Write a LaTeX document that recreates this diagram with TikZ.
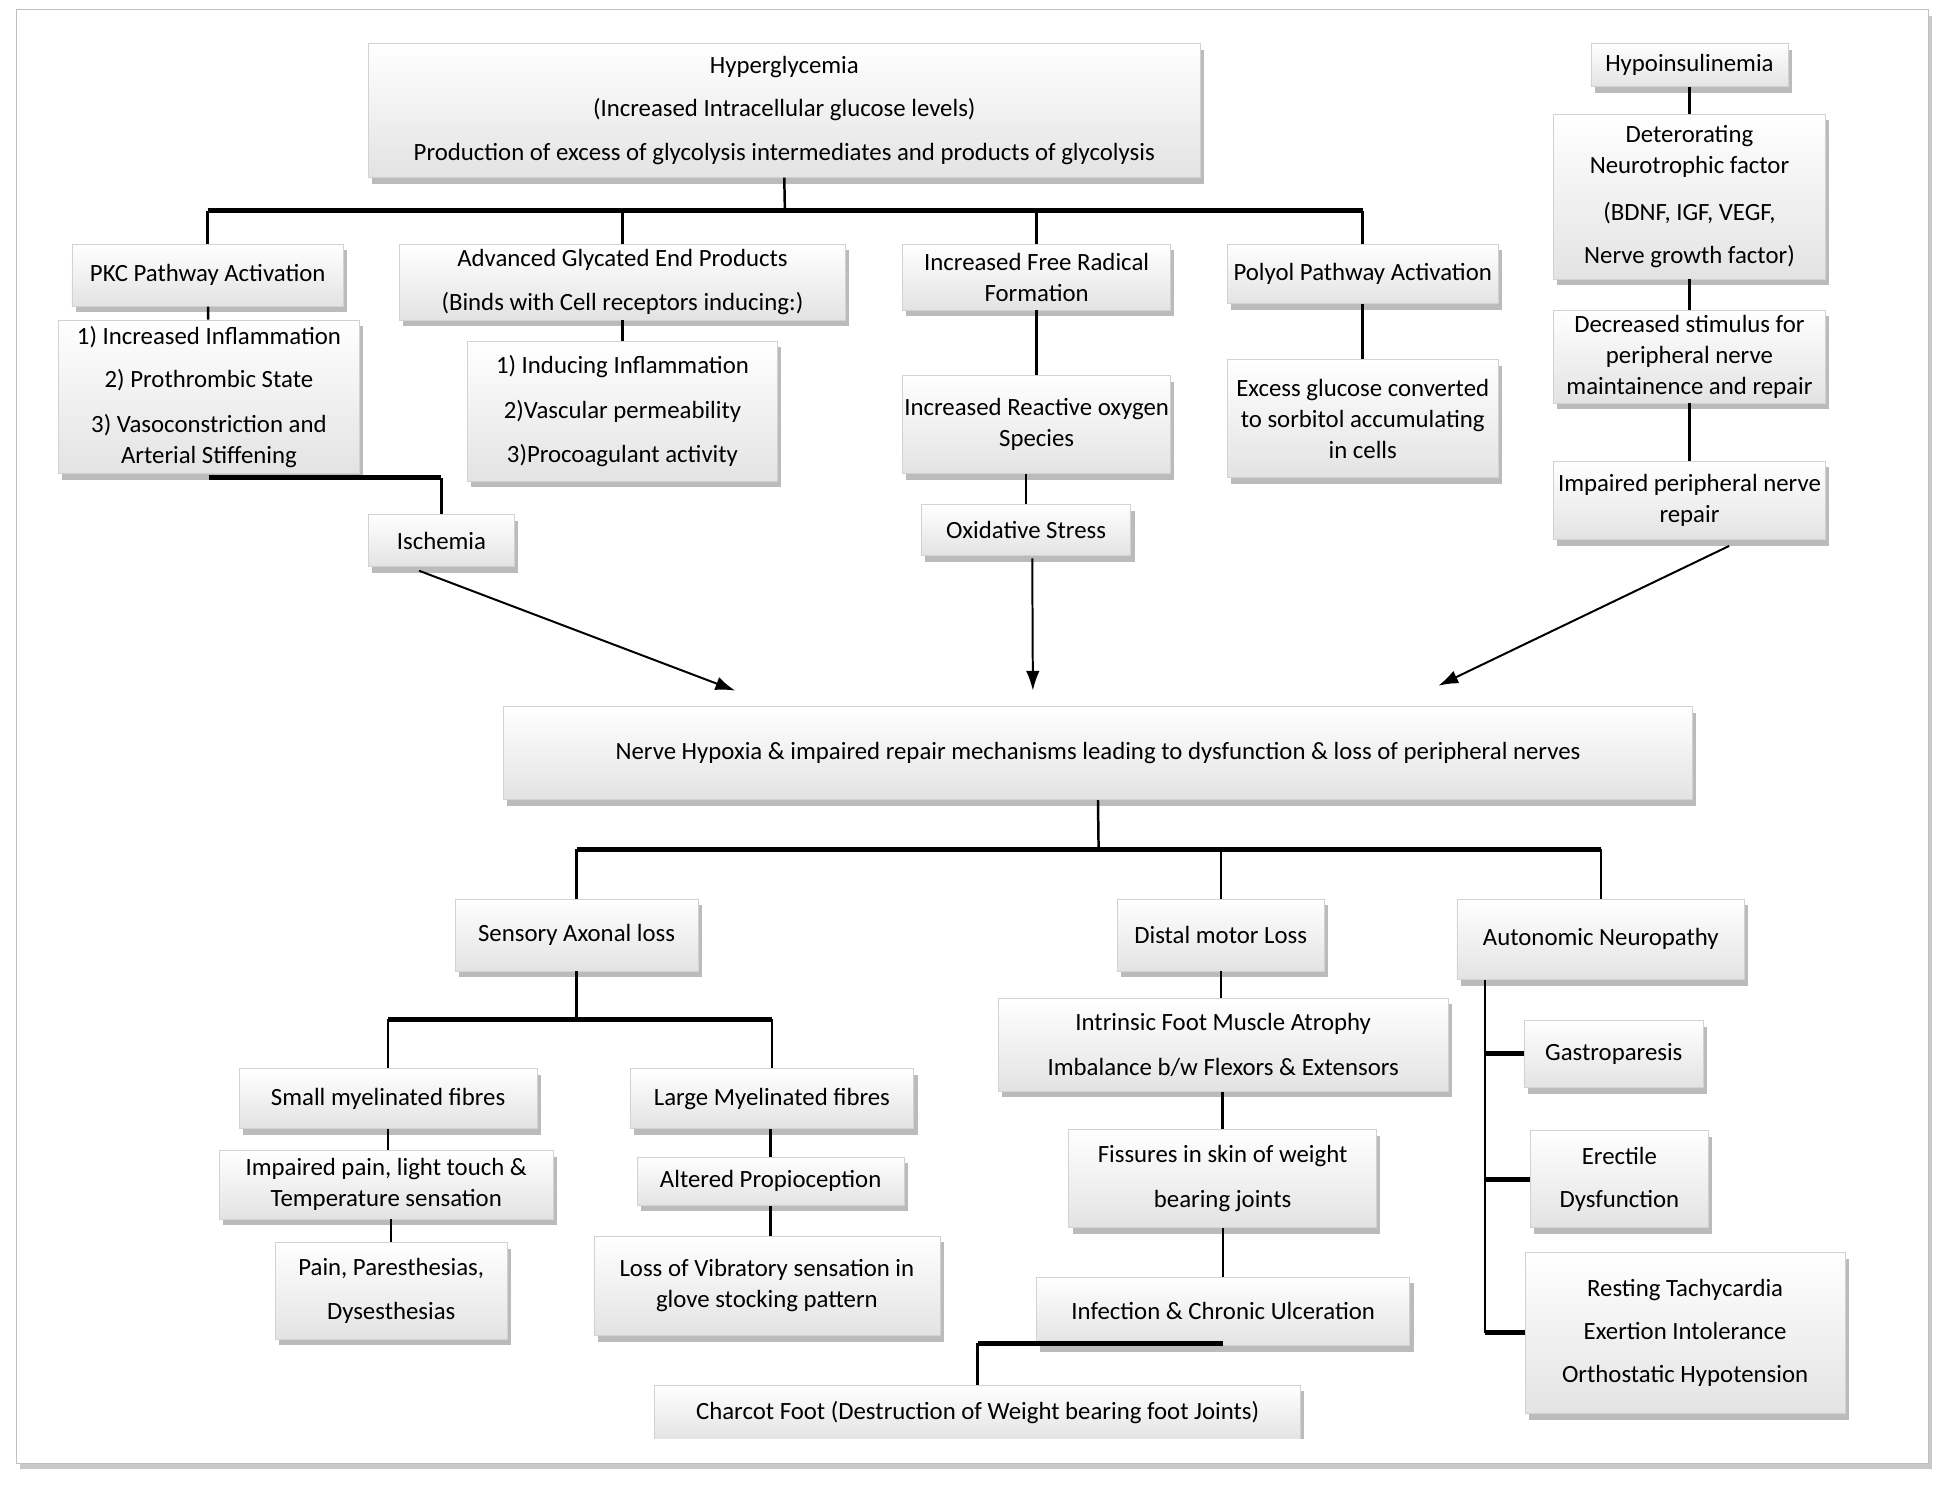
\documentclass[tikz,border=0pt]{standalone}
\usepackage{fontspec}
\setmainfont{Carlito}
\usetikzlibrary{shadows,arrows.meta,calc}
\begin{document}
\begin{tikzpicture}[x=0.5pt,y=-0.5pt,
 box/.style={draw=gray!35, line width=0.3pt, top color=white, bottom color=gray!22,
   drop shadow={shadow xshift=1.5pt,shadow yshift=-2.5pt,fill=gray!75,opacity=0.7},
   align=center, inner sep=0pt, font=\fontsize{10}{12.5}\selectfont},
 ln/.style={line width=1pt},
 bar/.style={line width=2pt},
 arr/.style={line width=0.8pt,-{Latex[length=8pt,width=5.5pt]}}]
\fill[white] (0,0) rectangle (1567,1199);
\useasboundingbox (0,0) rectangle (1567,1199);
\draw[draw=gray!50, fill=white, drop shadow={shadow xshift=1.5pt,shadow yshift=-2.5pt,fill=gray!60,opacity=0.7}] (13,8) rectangle (1555,1180);

% top row
\node[box, minimum width=335.5pt, minimum height=54pt] (hyper) at (632.5,89)
 {Hyperglycemia\\[5pt](Increased Intracellular glucose levels)\\[5pt]Production of excess of glycolysis intermediates and products of glycolysis};
\node[box, minimum width=79.5pt, minimum height=17.5pt] (hypoins) at (1362.5,52.5) {Hypoinsulinemia};
\node[box, minimum width=109.5pt, minimum height=66.5pt] (neuro) at (1362.5,158.5)
 {Deterorating\\Neurotrophic factor\\[6.5pt](BDNF, IGF, VEGF,\\[5pt]Nerve growth factor)};

\node[box, minimum width=109.5pt, minimum height=25pt] (pkc) at (167.5,222) {PKC Pathway Activation};
\node[box, minimum width=180pt, minimum height=30.5pt] (age) at (502,227.5)
 {Advanced Glycated End Products\\[5.5pt](Binds with Cell receptors inducing:)};
\node[box, minimum width=108pt, minimum height=26.5pt] (frad) at (836,223.5) {Increased Free Radical\\Formation};
\node[box, minimum width=109pt, minimum height=24pt] (polyol) at (1099,221) {Polyol Pathway Activation};

\node[box, minimum width=121.5pt, minimum height=62pt] (pkclist) at (168.5,320)
 {1) Increased Inflammation\\[5pt]2) Prothrombic State\\[5.5pt]3) Vasoconstriction and\\Arterial Stiffening};
\node[box, minimum width=125pt, minimum height=56.5pt] (agelist) at (502,331.5)
 {1) Inducing Inflammation\\[5.5pt]2)Vascular permeability\\[5pt]3)Procoagulant activity};
\node[box, minimum width=108pt, minimum height=39.5pt] (ros) at (836,342.5) {Increased Reactive oxygen\\Species};
\node[box, minimum width=109pt, minimum height=47.5pt] (sorb) at (1099,337.5) {Excess glucose converted\\to sorbitol accumulating\\in cells};
\node[box, minimum width=109.5pt, minimum height=37.5pt] (decr) at (1362.5,287.5) {Decreased stimulus for\\peripheral nerve\\maintainence and repair};
\node[box, minimum width=109.5pt, minimum height=31.5pt] (imprep) at (1362.5,403.5) {Impaired peripheral nerve\\repair};
\node[box, minimum width=59pt, minimum height=21pt] (isch) at (356,436) {Ischemia};
\node[box, minimum width=84.5pt, minimum height=20.5pt] (oxid) at (827.5,427.5) {Oxidative Stress};

\node[box, minimum width=479.5pt, minimum height=37.5pt] (hypox) at (885.5,607.5)
 {Nerve Hypoxia \& impaired repair mechanisms leading to dysfunction \& loss of peripheral nerves};

% lower part
\node[box, minimum width=98pt, minimum height=29pt] (sens) at (465,754) {Sensory Axonal loss};
\node[box, minimum width=83.5pt, minimum height=29pt] (distal) at (984.5,754) {Distal motor Loss};
\node[box, minimum width=116pt, minimum height=32.5pt] (auton) at (1291,757.5) {Autonomic Neuropathy};

\node[box, minimum width=120pt, minimum height=24pt] (small) at (313,886) {Small myelinated fibres};
\node[box, minimum width=114.5pt, minimum height=24pt] (large) at (622.5,886) {Large Myelinated fibres};
\node[box, minimum width=134.5pt, minimum height=27.5pt] (imppain) at (311.5,955.5) {Impaired pain, light touch \&\\Temperature sensation};
\node[box, minimum width=107.5pt, minimum height=19.5pt] (alt) at (621.5,952.5) {Altered Propioception};
\node[box, minimum width=93.5pt, minimum height=39pt] (pain) at (315.5,1041) {Pain, Paresthesias,\\[5pt]Dysesthesias};
\node[box, minimum width=139.5pt, minimum height=40pt] (vib) at (618.5,1037) {Loss of Vibratory sensation in\\glove stocking pattern};

\node[box, minimum width=181.5pt, minimum height=37.5pt] (intr) at (986.5,842.5) {Intrinsic Foot Muscle Atrophy\\[5.5pt]Imbalance b/w Flexors \& Extensors};
\node[box, minimum width=124pt, minimum height=39.5pt] (fiss) at (986,950.5) {Fissures in skin of weight\\[5.5pt]bearing joints};
\node[box, minimum width=150.5pt, minimum height=27.5pt] (infec) at (986.5,1057.5) {Infection \& Chronic Ulceration};
\begin{scope}
\clip (0,0) rectangle (1567,1160);
\node[box, minimum width=260.5pt, minimum height=22.5pt] (charcot) at (788.5,1139.5) {Charcot Foot (Destruction of Weight bearing foot Joints)};
\end{scope}

\node[box, minimum width=72.5pt, minimum height=27pt] (gastro) at (1301.5,850) {Gastroparesis};
\node[box, minimum width=72pt, minimum height=39pt] (erect) at (1306,951) {Erectile\\[5pt]Dysfunction};
\node[box, minimum width=129pt, minimum height=65pt] (rest) at (1359,1075) {Resting Tachycardia\\[5pt]Exertion Intolerance\\[5pt]Orthostatic Hypotension};

% connectors top
\coordinate (b1) at (633,170);
\draw[ln] (hyper.south) -- (b1);
\draw[bar] (pkc.north |- b1) -- (polyol.north |- b1);
\foreach \n in {pkc,age,frad,polyol} \draw[ln] (\n.north |- b1) -- (\n.north);
\draw[ln] (hypoins) -- (neuro);
\draw[ln] (neuro) -- (decr);
\draw[ln] (decr) -- (imprep);
\draw[ln] (pkc) -- (pkclist);
\draw[ln] (age) -- (agelist);
\draw[ln] (frad) -- (ros);
\draw[ln] (polyol) -- (sorb);
\draw[ln] (ros.south -| oxid.north) -- (oxid.north);
\path (pkclist.south) ++(0,3) coordinate (k1);
\draw[bar] (k1) -- (k1 -| isch.north);
\draw[ln] (k1 -| isch.north) -- (isch.north);

% arrows
\coordinate (e1) at (593,557);
\coordinate (e2) at (833,557);
\coordinate (e3) at (1160,553);
\draw[arr] ([xshift=-9pt,yshift=-1.5pt]isch.south) -- (e1);
\draw[arr] ([xshift=2.5pt,yshift=-1pt]oxid.south) -- (e2);
\draw[arr] ([xshift=16pt,yshift=-2.5pt]imprep.south) -- (e3);

% lower connectors
\coordinate (b2) at (886,685);
\draw[ln] (hypox.south) -- (b2);
\draw[bar] (sens.north |- b2) -- (auton.north |- b2);
\foreach \n in {sens,distal,auton} \draw[ln] (\n.north |- b2) -- (\n.north);
\coordinate (b3) at (465,822);
\draw[ln] (sens.south) -- (b3);
\draw[bar] (small.north |- b3) -- (large.north |- b3);
\draw[ln] (small.north |- b3) -- (small.north);
\draw[ln] (large.north |- b3) -- (large.north);
\draw[ln] (small) -- (imppain.north -| small);
\draw[ln] (imppain.south -| pain) -- (pain);
\draw[ln] (large.south -| alt) -- (alt);
\draw[ln] (alt) -- (vib.north -| alt);
\draw[ln] (distal) -- (intr.north -| distal);
\draw[ln] (intr.south -| fiss) -- (fiss);
\draw[ln] (fiss.south -| infec) -- (infec);
\path (infec.south) ++(0,-2) coordinate (k2);
\draw[bar] (k2) -- (k2 -| charcot.north);
\draw[ln] (k2 -| charcot.north) -- (charcot.north);
\coordinate (av) at ($(auton.south west)+(23,0)$);
\draw[ln] (av) -- (av |- rest.west);
\draw[bar] (av |- gastro.west) -- (gastro.west);
\draw[bar] (av |- erect.west) -- (erect.west);
\draw[bar] (av |- rest.west) -- (rest.west);
\end{tikzpicture}
\end{document}
